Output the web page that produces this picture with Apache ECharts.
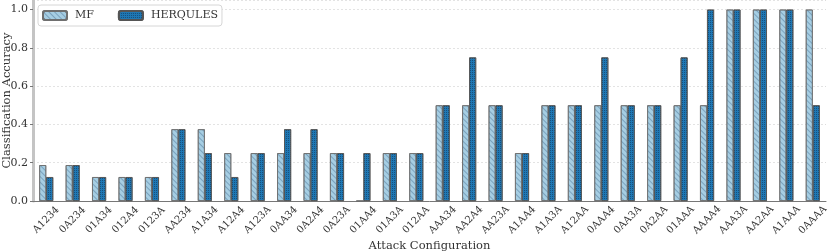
<!DOCTYPE html>
<html><head><meta charset="utf-8">
<script src="https://cdn.jsdelivr.net/npm/echarts@6/dist/echarts.min.js"></script>
<style>html,body{margin:0;padding:0;background:#fff}#c{width:830px;height:252px}</style>
</head><body><div id="c"></div>
<script>
const categories = ["A1234","0A234","01A34","012A4","0123A","AA234","A1A34","A12A4","A123A","0AA34","0A2A4","0A23A","01AA4","01A3A","012AA","AAA34","AA2A4","AA23A","A1AA4","A1A3A","A12AA","0AAA4","0AA3A","0A2AA","01AAA","AAAA4","AAA3A","AA2AA","A1AAA","0AAAA"];
const mfValues = [0.1875,0.1875,0.125,0.125,0.125,0.375,0.375,0.25,0.25,0.25,0.25,0.25,0,0.25,0.25,0.5,0.5,0.5,0.25,0.5,0.5,0.5,0.5,0.5,0.5,0.5,1,1,1,1];
const herqulesValues = [0.125,0.1875,0.125,0.125,0.125,0.375,0.25,0.125,0.25,0.375,0.375,0.25,0.25,0.25,0.25,0.5,0.75,0.5,0.25,0.5,0.5,0.75,0.5,0.5,0.75,1,1,1,1,0.5];
const yTicks = ["0.0","0.2","0.4","0.6","0.8","1.0"];

const font = "DejaVu Serif";
const chart = echarts.init(document.getElementById('c'), null, {renderer:'canvas'});
chart.setOption({
  animation:false,
  textStyle:{fontFamily:font},
  grid:{left:33,right:4,top:0,bottom:51,containLabel:false,outerBoundsMode:'none'},
  legend:{
    left:38, top:5, itemWidth:24, itemHeight:9, itemGap:24,
    padding:[5,4,5,4],
    borderColor:'#d6d6d6', borderWidth:1, borderRadius:3, backgroundColor:'#fff',
    textStyle:{fontFamily:font,fontSize:11,color:'#333',padding:[0,0,0,3]},
    data:['MF','HERQULES']
  },
  xAxis:{
    type:'category', data:categories,
    name:'Attack Configuration', nameLocation:'middle', nameGap:39, nameMoveOverlap:false,
    nameTextStyle:{fontFamily:font,fontSize:11.5,color:'#333'},
    axisLine:{lineStyle:{color:'#777',width:1}},
    axisTick:{alignWithLabel:true,length:3,lineStyle:{color:'#777'}},
    axisLabel:{rotate:45,fontFamily:font,fontSize:10,color:'#333',interval:0,margin:19,
      align:'center',verticalAlign:'middle'},
    splitLine:{show:false}
  },
  yAxis:{
    type:'value', min:0, max:1.05, interval:0.2,
    name:'Classification Accuracy', nameLocation:'middle', nameGap:20, nameMoveOverlap:false,
    nameTextStyle:{fontFamily:font,fontSize:11.5,color:'#333'},
    axisLine:{show:true,lineStyle:{color:'#c4c4c4',width:3}},
    axisTick:{show:true,length:3,lineStyle:{color:'#777'}},
    axisLabel:{fontFamily:font,fontSize:11,color:'#333',margin:5,showMaxLabel:false,hideOverlap:false,
      formatter:function(v){const s=(Math.round(v*100)/100).toFixed(1);return (yTicks.indexOf(s)>=0 && Math.abs(v*5-Math.round(v*5))<1e-6)?s:'';}},
    splitLine:{show:true,lineStyle:{color:'#dcdcdc',type:[2,2],width:0.8}}
  },
  series:[
    {name:'MF',type:'bar',data:mfValues,barWidth:7,barGap:'0%',
     itemStyle:{color:'#a6cee3',borderColor:'#6f6f6f',borderWidth:0.8,
       decal:{symbol:'rect',color:'rgba(40,80,120,0.35)',dashArrayX:[1,0],dashArrayY:[1,3],rotation:Math.PI/4,symbolSize:1}}},
    {name:'HERQULES',type:'bar',data:herqulesValues,barWidth:7,
     itemStyle:{color:'#1f78b4',borderColor:'#555',borderWidth:0.8,
       decal:{symbol:'rect',color:'rgba(10,30,60,0.45)',dashArrayX:[[1,1]],dashArrayY:[1,1],rotation:0,symbolSize:1}}}
  ]
});
</script></body></html>
